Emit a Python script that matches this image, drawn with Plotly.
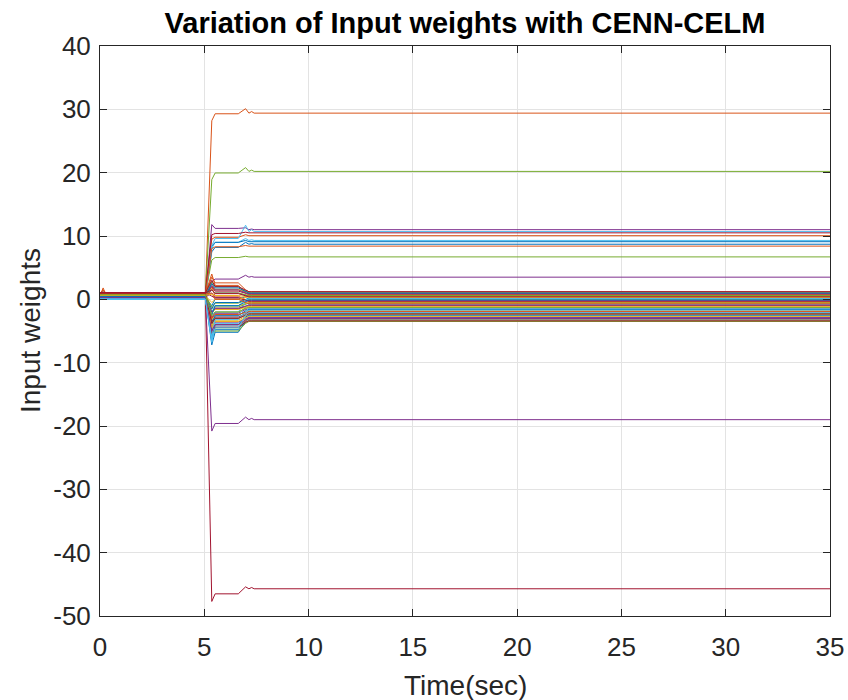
import plotly.graph_objects as go

knot_times = [0, 0.15, 0.3, 5.05, 5.36, 5.52, 6.63, 6.98, 7.14, 7.27, 7.39, 35]

# Per-weight values (70 weights, MATLAB colour order)
w_init = [0.5, 0.6, 0.7, 0.4, 0.8, 0.1, 0.9,
          0.3, 0.95, 0.6, 0.2, 0.85, 0.05, 1.0,
          0.45, 0.75, 0.55, 0.35, 0.65, 0.15, 0.9,
          0.25, 0.8, 0.5, 0.3, 0.7, 0.1, 0.95,
          0.4, 0.85, 0.6, 0.2, 0.75, 0.0, 0.9,
          0.35, 0.7, 0.5, 0.25, 0.8, 0.12, 1.05,
          0.45, 0.9, 0.6, 0.3, 0.7, 0.08, 1.0,
          0.4, 0.75, 0.55, 0.2, 0.65, 0.18, 0.95,
          0.5, 0.8, 0.6, 0.35, 0.75, 0.1, 0.9,
          0.4, 0.85, 0.65, 0.25, 0.7, 0.05, 1.0]
w_spike = [0.5, 1.8, 0.7, 0.4, 1.2, 0.1, 1.4,
           0.3, 1.5, 0.6, 0.2, 0.85, 0.05, 1.0,
           0.45, 0.75, 0.55, 0.35, 0.65, 0.15, 0.9,
           0.25, 0.8, 0.5, 0.3, 0.7, 0.1, 0.95,
           0.4, 0.85, 0.6, 0.2, 0.75, 0.0, 0.9,
           0.35, 0.7, 0.5, 0.25, 0.8, 0.12, 1.05,
           0.45, 0.9, 0.6, 0.3, 0.7, 0.08, 1.0,
           0.4, 0.75, 0.55, 0.2, 0.65, 0.18, 0.95,
           0.5, 0.8, 0.6, 0.35, 0.75, 0.1, 0.9,
           0.4, 0.85, 0.65, 0.25, 0.7, 0.05, 1.0]
w_dip = [7.5, 28.2, -3.0, -20.8, 18.9, 8.0, -47.7,
         8.4, 9.5, 2.5, 11.8, 6.2, 8.5, 10.2,
         -6.5, 8.0, -1.5, 2.8, -5.5, -3.5, -2.0,
         -1.0, -4.0, 1.8, 1.0, -1.2, -5.0, 2.0,
         -7.2, 3.5, -3.2, -2.8, -6.0, -4.5, -3.5,
         -1.5, 2.0, -4.2, 1.5, 2.8, -6.8, 0.5,
         -3.8, 4.0, -0.5, -4.5, -2.0, -5.5, 3.0,
         -5.8, -5.0, -2.2, 2.2, -3.8, -2.0, -5.5,
         2.5, -3.0, -4.5, -2.0, 1.5, -6.0, -3.8,
         -2.5, 1.0, 0.8, -5.0, -2.6, -6.5, 1.5]
w_plateau = [8.2, 29.3, -2.0, -19.6, 19.95, 9.0, -46.5,
             9.0, 9.8, 1.6, 11.2, 6.6, 9.6, 10.4,
             -4.8, 8.3, -1.0, 3.2, -4.5, -2.0, -1.5,
             0.0, -3.0, 1.5, 0.3, -0.6, -3.8, 1.3,
             -5.2, 2.6, -2.5, -2.2, -5.0, -2.5, -2.8,
             -0.5, 0.5, -3.3, 1.0, 2.0, -4.2, 0.2,
             -2.6, 2.2, 0.0, -3.6, -1.2, -3.0, 2.0,
             -4.0, -4.0, -1.6, 1.5, -3.0, -1.0, -4.4,
             1.8, -2.4, -3.5, -1.4, 1.0, -3.2, -3.0,
             -1.0, 0.0, 0.6, -4.0, -2.0, -4.5, 0.9]
w_peak = [9.0, 30.1, -1.4, -18.6, 20.8, 9.6, -45.4,
          9.3, 10.2, 1.1, 11.3, 6.8, 11.7, 10.6,
          -3.2, 8.5, -0.6, 3.8, -3.6, -0.3, -1.1,
          0.4, -2.4, 1.2, -0.1, -0.1, -2.9, 0.9,
          -3.4, 1.5, -1.9, -1.6, -3.8, -1.2, -2.2,
          0.0, -0.2, -2.6, 0.6, 1.3, -3.4, -0.2,
          -1.8, 1.0, 0.3, -3.0, -0.7, -1.8, 1.4,
          -2.8, -3.3, -1.2, 1.0, -2.4, -0.1, -3.6,
          1.2, -2.0, -2.9, -1.0, 0.7, -2.2, -2.5,
          -0.3, -0.5, 0.4, -3.2, -1.4, -2.5, 0.5]
w_bump = [8.8, 29.65, -1.2, -18.8, 20.4, 9.4, -45.5,
          9.1, 10.05, 0.9, 11.1, 6.7, 11.0, 10.5,
          -2.8, 8.4, -0.5, 3.6, -3.3, 0.3, -1.0,
          0.6, -2.2, 1.1, -0.2, 0.0, -2.6, 0.8,
          -3.0, 1.2, -1.8, -1.5, -3.5, -0.8, -2.0,
          0.2, -0.4, -2.4, 0.5, 1.0, -3.2, -0.3,
          -1.6, 0.7, 0.4, -2.9, -0.6, -1.4, 1.2,
          -2.5, -3.1, -1.1, 0.9, -2.2, 0.1, -3.4,
          1.0, -1.9, -2.7, -0.9, 0.6, -1.7, -2.3,
          -0.1, -0.7, 0.3, -3.0, -1.3, -2.1, 0.4]
w_final = [8.7, 29.4, -1.2, -19.0, 20.2, 9.3, -45.7,
           9.1, 10.05, 0.9, 11.0, 6.7, 10.7, 10.5,
           -2.8, 8.4, -0.5, 3.5, -3.3, 0.3, -1.0,
           0.6, -2.2, 1.1, -0.2, 0.0, -2.6, 0.8,
           -3.0, 1.2, -1.8, -1.5, -3.5, -0.8, -2.0,
           0.2, -0.4, -2.4, 0.5, 1.0, -3.2, -0.3,
           -1.6, 0.7, 0.4, -2.9, -0.6, -1.4, 1.2,
           -2.5, -3.1, -1.1, 0.9, -2.2, 0.1, -3.4,
           1.0, -1.9, -2.7, -0.9, 0.6, -1.7, -2.3,
           -0.1, -0.7, 0.3, -3.0, -1.3, -2.1, 0.4]

x_ticks = [0, 5, 10, 15, 20, 25, 30, 35]
x_tick_labels = ["0", "5", "10", "15", "20", "25", "30", "35"]
y_ticks = [-50, -40, -30, -20, -10, 0, 10, 20, 30, 40]
y_tick_labels = ["-50", "-40", "-30", "-20", "-10", "0", "10", "20", "30", "40"]

matlab_colors = ["#0072BD", "#D95319", "#EDB120", "#7E2F8E",
                 "#77AC30", "#4DBEEE", "#A2142F"]

fig = go.Figure()
for i in range(len(w_final)):
    ys = [w_init[i], w_spike[i], w_init[i], w_init[i], w_dip[i],
          w_plateau[i], w_plateau[i], w_peak[i], w_final[i], w_bump[i],
          w_final[i], w_final[i]]
    fig.add_trace(go.Scatter(
        x=knot_times, y=ys, mode="lines",
        line=dict(color=matlab_colors[i % 7], width=1),
        showlegend=False, hoverinfo="skip"))

font_family = "Liberation Sans, Arial, sans-serif"
axis_common = dict(
    showline=True, linecolor="#262626", linewidth=1, mirror="ticks",
    ticks="inside", ticklen=7, tickcolor="#262626", tickwidth=1,
    showgrid=True, gridcolor="#E3E3E3", gridwidth=1,
    zeroline=False, automargin=False,
    tickfont=dict(family=font_family, size=26, color="#262626"),
)

fig.update_layout(
    width=848, height=700,
    paper_bgcolor="white", plot_bgcolor="white",
    margin=dict(l=100, r=18, t=46, b=84),
    title=dict(text="<b>Variation of Input weights with CENN-CELM</b>",
               x=465 / 848, xanchor="center", y=1 - 23 / 700, yanchor="middle",
               font=dict(family=font_family, size=29, color="black")),
    xaxis=dict(range=[0, 35], tickvals=x_ticks, ticktext=x_tick_labels,
               ticklabelstandoff=8, **axis_common),
    yaxis=dict(range=[-50, 40], tickvals=y_ticks, ticktext=y_tick_labels,
               ticklabelstandoff=3, **axis_common),
    annotations=[
        dict(text="Time(sec)", xref="paper", yref="paper",
             x=0.5, y=-(685 - 615.5) / 569.5, xanchor="center", yanchor="middle",
             showarrow=False,
             font=dict(family=font_family, size=28, color="#262626")),
        dict(text="Input weights", xref="paper", yref="paper",
             x=-(100 - 30) / 730, y=0.5, xanchor="center", yanchor="middle",
             textangle=-90, showarrow=False,
             font=dict(family=font_family, size=28, color="#262626")),
    ],
)

fig.write_html("out.html")
